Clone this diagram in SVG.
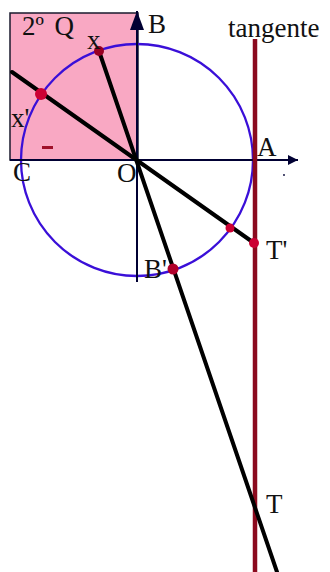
<svg xmlns="http://www.w3.org/2000/svg" width="330" height="572" viewBox="0 0 330 572">
<style>
text{font-family:"Liberation Serif","Times New Roman",serif;fill:#111;font-size:27px;}
.ax{stroke:#000033;stroke-width:2;fill:none;}
.thick{stroke:#000;stroke-width:4;stroke-linecap:round;fill:none;}
.pt{fill:#cc0033;}
</style>
<defs>
<marker id="ah" viewBox="0 0 10 10" refX="10" refY="5" markerWidth="10" markerHeight="10" markerUnits="userSpaceOnUse" orient="auto">
<path d="M0,0 L10,5 L0,10 Z" fill="#000033"/>
</marker>
</defs>
<g id="quadrant">
<rect x="10" y="13" width="128" height="147" fill="#f9a8c3" stroke="#1a1a2e" stroke-width="1.5"/>
<text x="22" y="35" word-spacing="4">2º Q</text>
<rect x="42" y="146" width="11" height="3" fill="#a0102a"/>
</g>
<g id="circle">
<circle cx="137" cy="160" r="116" fill="none" stroke="#3a0fd8" stroke-width="2.3"/>
</g>
<g id="connectors">
<line class="ax" x1="10" y1="160" x2="298" y2="160" marker-end="url(#ah)"/>
<line class="ax" x1="137" y1="282" x2="137" y2="11"/>
<path d="M137,11 L130,30 L144,30 Z" fill="#000033"/>
<line x1="255" y1="39" x2="255" y2="572" stroke="#8b0a1e" stroke-width="4.5"/>
<line class="thick" x1="99" y1="51" x2="277" y2="572"/>
<line class="thick" x1="12" y1="72" x2="254" y2="243"/>
<circle cx="284" cy="175" r="0.9" fill="#000033"/>
</g>
<g id="points">
<circle cx="99" cy="51" r="5" fill="#990022"/>
<circle class="pt" cx="41" cy="94" r="6"/>
<circle class="pt" cx="230" cy="228" r="4.5"/>
<circle cx="173" cy="269" r="5.5" fill="#b0002a"/>
<circle class="pt" cx="254" cy="243" r="5"/>
</g>
<g id="labels">
<text x="87" y="49">x</text>
<text x="11" y="127">x'</text>
<text x="148" y="33">B</text>
<text x="13" y="181">C</text>
<text x="117" y="182">O</text>
<text x="257" y="156">A</text>
<text x="228" y="37">tangente</text>
<text x="266" y="259">T'</text>
<text x="144" y="278">B'</text>
<text x="266" y="513">T</text>
</g>
</svg>
